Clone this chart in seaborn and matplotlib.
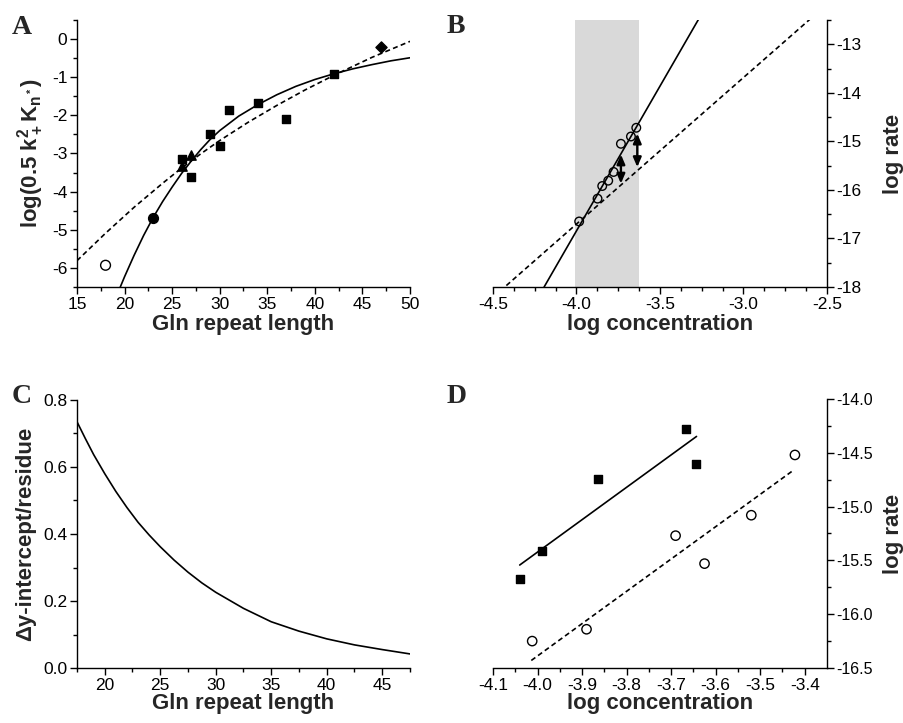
import numpy as np
import pandas as pd
import matplotlib
matplotlib.use("Agg")
import matplotlib.pyplot as plt
from matplotlib.ticker import MultipleLocator, FixedLocator, FormatStrFormatter
import seaborn as sns

# ---- Panel A data ----
a_open_x, a_open_y = [18], [-5.93]
a_circ_x, a_circ_y = [23], [-4.68]
a_tri_x, a_tri_y = [26, 27], [-3.32, -3.04]
a_sq_x = [26, 27, 29, 30, 31, 34, 37, 42]
a_sq_y = [-3.15, -3.62, -2.48, -2.8, -1.87, -1.68, -2.1, -0.92]
a_dia_x, a_dia_y = [47], [-0.22]
a_fit_x = [19.55, 20, 21, 22, 23, 24, 25, 26, 27, 28, 29, 30, 32, 34, 36, 38, 40, 42, 44, 46, 48, 50]
a_fit_y = [-6.5, -6.23, -5.67, -5.15, -4.68, -4.26, -3.88, -3.52, -3.2, -2.9, -2.63, -2.4,
           -2.02, -1.72, -1.46, -1.24, -1.06, -0.91, -0.78, -0.67, -0.57, -0.49]
a_fit2_x = [15, 18, 21, 24, 26, 28, 30, 33, 36, 39, 42, 46, 50]
a_fit2_y = [-5.81, -5.09, -4.41, -3.78, -3.38, -3.01, -2.66, -2.18, -1.74, -1.33, -0.95, -0.48, -0.06]

# ---- Panel B data ----
b_x = [-3.984, -3.874, -3.846, -3.81, -3.778, -3.734, -3.674, -3.642]
b_y = [-16.65, -16.18, -15.92, -15.81, -15.63, -15.05, -14.90, -14.72]
b_solid_x, b_solid_y = [-4.194, -3.27], [-18.0, -12.49]
b_dash_x, b_dash_y = [-4.42, -2.604], [-17.97, -12.49]
b_band = [-4.01, -3.624]
b_arrow_x = [-3.734, -3.636]
b_arrow_top = [-15.27, -14.84]
b_arrow_bot = [-15.87, -15.53]

# ---- Panel C data ----
c_x = [17.5, 18.25, 19, 20, 21, 22, 23, 24, 25, 26.25, 27.5, 28.75, 30, 32.5, 35,
       37.5, 40, 42.5, 45, 47.5]
c_y = [0.735, 0.685, 0.637, 0.58, 0.527, 0.479, 0.435, 0.397, 0.362, 0.322, 0.286,
       0.254, 0.226, 0.178, 0.138, 0.11, 0.087, 0.069, 0.055, 0.042]

# ---- Panel D data ----
d_sq_x = [-4.040, -3.99, -3.864, -3.667, -3.645]
d_sq_y = [-15.67, -15.41, -14.745, -14.276, -14.606]
d_solid_x, d_solid_y = [-4.04, -3.643], [-15.543, -14.348]
d_op_x = [-4.012, -3.890, -3.690, -3.625, -3.520, -3.422]
d_op_y = [-16.25, -16.14, -15.27, -15.53, -15.08, -14.52]
d_dash_x, d_dash_y = [-4.014, -3.428], [-16.43, -14.67]

sns.set_style("ticks")
plt.rcParams['font.family'] = ['Liberation Sans', 'DejaVu Sans']
plt.rcParams['axes.unicode_minus'] = False
plt.rcParams['mathtext.fontset'] = 'custom'
plt.rcParams['mathtext.rm'] = 'Liberation Sans:bold'
plt.rcParams['mathtext.bf'] = 'Liberation Sans:bold'
plt.rcParams['mathtext.default'] = 'bf'

TICK_FS = 12.5
LAB_FS = 16
LW = 1.2
DASH = (3, 2)

fig = plt.figure(figsize=(9.04, 7.23), dpi=100)
axA = fig.add_axes([77/904, 1-287/723, 333/904, 267/723])
axB = fig.add_axes([493/904, 1-287/723, 334/904, 267/723])
axC = fig.add_axes([77/904, 1-668/723, 333/904, 268/723])
axD = fig.add_axes([493/904, 1-668/723, 334/904, 269/723])


def style(ax, right=False, fs=TICK_FS):
    if right:
        sns.despine(ax=ax, left=True, right=False, top=True)
        ax.yaxis.tick_right()
        ax.yaxis.set_label_position("right")
    else:
        sns.despine(ax=ax)
    for s in ax.spines.values():
        s.set_linewidth(1.0)
        s.set_color('black')
    ax.tick_params(which='major', length=5, width=1, labelsize=fs, colors='black', pad=2)
    ax.tick_params(which='minor', length=3, width=1, colors='black')


def scat(ax, x, y, marker, s, open_=False):
    sns.scatterplot(x=x, y=y, marker=marker, s=s, color='black', edgecolor='black',
                    linewidth=1.0, ax=ax, zorder=4)
    if open_:
        ax.collections[-1].set_facecolor('none')


def line(ax, x, y, dashed=False):
    sns.lineplot(x=x, y=y, color='black', lw=LW, sort=False, estimator=None, ax=ax, zorder=3)
    if dashed:
        ax.lines[-1].set_dashes(DASH)


# ---- A ----
line(axA, a_fit_x, a_fit_y)
line(axA, a_fit2_x, a_fit2_y, dashed=True)
scat(axA, a_open_x, a_open_y, 'o', 50, open_=True)
scat(axA, a_circ_x, a_circ_y, 'o', 50)
scat(axA, a_tri_x, a_tri_y, '^', 45)
scat(axA, a_sq_x, a_sq_y, 's', 40)
scat(axA, a_dia_x, a_dia_y, 'D', 32)
axA.set_xlim(15, 50)
axA.set_ylim(-6.5, 0.5)
axA.xaxis.set_major_locator(MultipleLocator(5))
axA.xaxis.set_minor_locator(MultipleLocator(2.5))
axA.yaxis.set_major_locator(FixedLocator([0, -1, -2, -3, -4, -5, -6]))
axA.yaxis.set_minor_locator(MultipleLocator(0.5))
axA.set_xlabel('Gln repeat length', fontsize=LAB_FS, fontweight='bold', labelpad=2)
axA.set_ylabel(r'log(0.5 k$_+^2$K$_{n^*}$)', fontsize=LAB_FS, fontweight='bold', labelpad=5)
style(axA)

# ---- B ----
axB.axvspan(b_band[0], b_band[1], color='#d9d9d9', zorder=0, lw=0)
line(axB, b_solid_x, b_solid_y)
line(axB, b_dash_x, b_dash_y, dashed=True)
scat(axB, b_x, b_y, 'o', 38, open_=True)
for xa, yt, yb in zip(b_arrow_x, b_arrow_top, b_arrow_bot):
    axB.annotate('', xy=(xa, yt), xytext=(xa, yb),
                 arrowprops=dict(arrowstyle='<|-|>,head_length=0.7,head_width=0.3',
                                 color='black', lw=1.7, mutation_scale=8,
                                 shrinkA=0, shrinkB=0))
axB.set_xlim(-4.5, -2.5)
axB.set_ylim(-18, -12.5)
axB.xaxis.set_major_locator(MultipleLocator(0.5))
axB.xaxis.set_minor_locator(MultipleLocator(0.125))
axB.xaxis.set_major_formatter(FormatStrFormatter('%.1f'))
axB.yaxis.set_major_locator(FixedLocator([-13, -14, -15, -16, -17, -18]))
axB.yaxis.set_minor_locator(MultipleLocator(0.5))
axB.set_xlabel('log concentration', fontsize=LAB_FS, fontweight='bold', labelpad=2)
axB.set_ylabel('log rate', fontsize=LAB_FS, fontweight='bold')
style(axB, right=True)
axB.yaxis.set_label_coords(1.168, 0.5)

# ---- C ----
line(axC, c_x, c_y)
axC.set_xlim(17.5, 47.5)
axC.set_ylim(0, 0.8)
axC.xaxis.set_major_locator(FixedLocator([20, 25, 30, 35, 40, 45]))
axC.xaxis.set_minor_locator(FixedLocator([17.5, 22.5, 27.5, 32.5, 37.5, 42.5, 47.5]))
axC.yaxis.set_major_locator(MultipleLocator(0.2))
axC.yaxis.set_minor_locator(MultipleLocator(0.1))
axC.yaxis.set_major_formatter(FormatStrFormatter('%.1f'))
axC.set_xlabel('Gln repeat length', fontsize=LAB_FS, fontweight='bold', labelpad=0)
axC.set_ylabel('Δy-intercept/residue', fontsize=LAB_FS, fontweight='bold', labelpad=5)
style(axC)

# ---- D ----
line(axD, d_solid_x, d_solid_y)
line(axD, d_dash_x, d_dash_y, dashed=True)
scat(axD, d_sq_x, d_sq_y, 's', 40)
scat(axD, d_op_x, d_op_y, 'o', 45, open_=True)
axD.set_xlim(-4.1, -3.35)
axD.set_ylim(-16.5, -14.0)
axD.xaxis.set_major_locator(FixedLocator([-4.1, -4.0, -3.9, -3.8, -3.7, -3.6, -3.5, -3.4]))
axD.xaxis.set_minor_locator(FixedLocator([-4.05, -3.95, -3.85, -3.75, -3.65, -3.55, -3.45]))
axD.xaxis.set_major_formatter(FormatStrFormatter('%.1f'))
axD.yaxis.set_major_locator(MultipleLocator(0.5))
axD.yaxis.set_minor_locator(MultipleLocator(0.25))
axD.yaxis.set_major_formatter(FormatStrFormatter('%.1f'))
axD.set_xlabel('log concentration', fontsize=LAB_FS, fontweight='bold', labelpad=0)
axD.set_ylabel('log rate', fontsize=LAB_FS, fontweight='bold')
style(axD, right=True, fs=11.5)
axD.tick_params(axis='x', labelsize=TICK_FS)
axD.yaxis.set_label_coords(1.168, 0.5)

# panel letters
for lab, (px, py) in zip('ABCD', [(12, 34), (447, 33), (12, 403), (447, 403)]):
    fig.text(px/904, 1-py/723, lab, fontsize=20, fontweight='bold',
             family='Liberation Serif', ha='left', va='baseline')

fig.savefig('out.png', dpi=100)
